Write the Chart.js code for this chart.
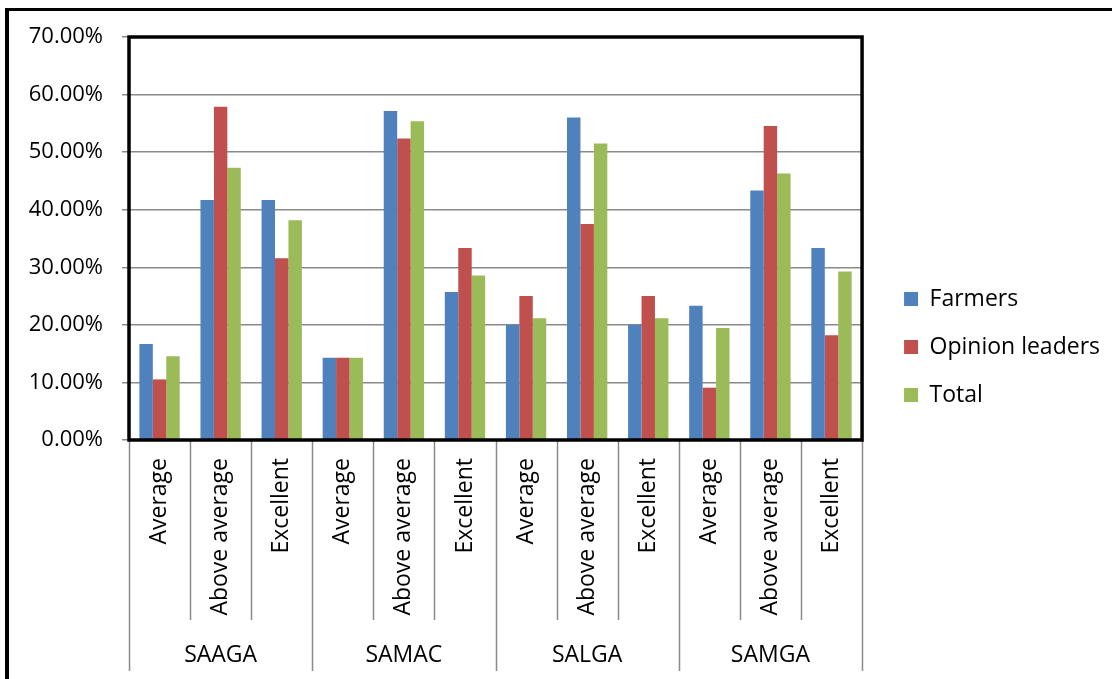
<!DOCTYPE html>
<html>
<head>
<meta charset="utf-8">
<title>Ratings by group</title>
<script src="https://cdn.jsdelivr.net/npm/chart.js@4"></script>
<style>
  html, body { margin: 0; padding: 0; background: #fff; }
  #wrap { width: 1112px; height: 679px; position: relative; }
</style>
</head>
<body>
<div id="wrap"><canvas id="c" width="1112" height="679"></canvas></div>
<script>
// Rating categories (inner axis level) and organisation groups (outer level)
const ratings = [
  'Average', 'Above average', 'Excellent',
  'Average', 'Above average', 'Excellent',
  'Average', 'Above average', 'Excellent',
  'Average', 'Above average', 'Excellent'
];
const groups = ['SAAGA', 'SAMAC', 'SALGA', 'SAMGA'];

// Percentages per rating, in the order of `ratings`
const farmers        = [16.67, 41.67, 41.67, 14.29, 57.14, 25.71, 20.00, 56.00, 20.00, 23.33, 43.33, 33.33];
const opinionLeaders = [10.53, 57.89, 31.58, 14.29, 52.38, 33.33, 25.00, 37.50, 25.00,  9.09, 54.55, 18.18];
const total          = [14.55, 47.27, 38.18, 14.29, 55.36, 28.57, 21.15, 51.52, 21.15, 19.44, 46.30, 29.27];

const seriesNames = ['Farmers', 'Opinion leaders', 'Total'];
const yTickValues = [0, 10, 20, 30, 40, 50, 60, 70];

const GRID = '#8a8a8a';

Chart.defaults.font.family = "'Open Sans', sans-serif";
Chart.defaults.font.size = 22;
Chart.defaults.color = '#000';

// Page frame, plot frame and the two-level category separators
const framePlugin = {
  id: 'frames',
  beforeDraw(chart) {
    const ctx = chart.ctx;
    ctx.save();
    ctx.fillStyle = '#fff';
    ctx.fillRect(0, 0, chart.width, chart.height);
    ctx.fillStyle = '#000';
    ctx.fillRect(5, 8, chart.width - 5, 3);
    ctx.fillRect(5, 8, 4, chart.height - 8);
    ctx.restore();
  },
  afterDraw(chart) {
    const ctx = chart.ctx;
    const a = chart.chartArea;
    const xs = chart.scales.x;
    ctx.save();
    // separators under the category axis
    ctx.strokeStyle = GRID;
    ctx.lineWidth = 1.5;
    const n = ratings.length;
    for (let i = 0; i <= n; i++) {
      let x;
      if (i === 0) x = a.left;
      else if (i === n) x = a.right;
      else x = (xs.getPixelForValue(i - 1) + xs.getPixelForValue(i)) / 2;
      const isGroupEdge = i % 3 === 0;
      ctx.beginPath();
      ctx.moveTo(Math.round(x) + 0.5, a.bottom);
      ctx.lineTo(Math.round(x) + 0.5, isGroupEdge ? a.bottom + 231 : a.bottom + 180);
      ctx.stroke();
    }
    // plot area frame
    ctx.strokeStyle = '#000';
    ctx.lineWidth = 3.5;
    ctx.strokeRect(a.left, a.top, a.right - a.left, a.bottom - a.top);
    ctx.restore();
  },
  afterLayout(chart) {
    const lg = chart.legend;
    if (lg) {
      lg.left += 17; lg.right += 17;
      lg.top -= 11; lg.bottom -= 11;
    }
  }
};

new Chart(document.getElementById('c'), {
  type: 'bar',
  data: {
    labels: ratings,
    datasets: [
      { label: seriesNames[0], data: farmers,        backgroundColor: '#4F81BD' },
      { label: seriesNames[1], data: opinionLeaders, backgroundColor: '#C0504D' },
      { label: seriesNames[2], data: total,          backgroundColor: '#9BBB59' }
    ]
  },
  options: {
    responsive: false,
    animation: false,
    devicePixelRatio: 1,
    layout: { padding: { left: 28, top: 37, right: 19, bottom: 0 } },
    datasets: { bar: { categoryPercentage: 0.66, barPercentage: 1.0, borderWidth: 0 } },
    plugins: {
      legend: {
        position: 'right',
        labels: { boxWidth: 14, boxHeight: 14, padding: 25, color: '#000', font: { size: 23 } }
      },
      tooltip: { enabled: false }
    },
    scales: {
      x: {
        weight: 0,
        grid: { display: false, drawTicks: false },
        border: { display: false },
        ticks: { autoSkip: false, minRotation: 90, maxRotation: 90, padding: 18, color: '#000', font: { size: 23 } },
        afterFit(s) { s.height = 185; }
      },
      x2: {
        type: 'category',
        position: 'bottom',
        weight: 1,
        labels: groups,
        offset: true,
        grid: { display: false, drawTicks: false },
        border: { display: false },
        ticks: { padding: 17, color: '#000', font: { size: 23 } },
        afterFit(s) { s.height = 54; }
      },
      y: {
        min: 0,
        max: 70,
        afterBuildTicks(s) { s.ticks = yTickValues.map(v => ({ value: v })); },
        grid: { color: GRID, lineWidth: 1.5, tickLength: 7, tickColor: GRID },
        border: { display: false },
        ticks: {
          padding: 19,
          color: '#000',
          font: { size: 22 },
          callback: v => v.toFixed(2) + '%'
        },
        afterFit(s) { s.width = 101; }
      }
    }
  },
  plugins: [framePlugin]
});
</script>
</body>
</html>
